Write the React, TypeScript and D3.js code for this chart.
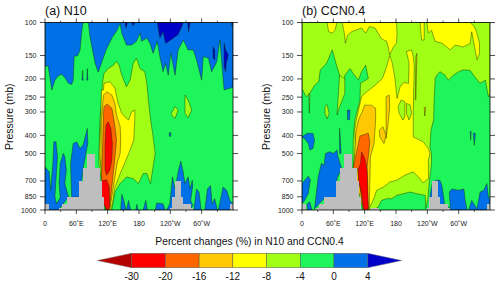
import React from "react";
import * as d3 from "d3";

type P = [number, number];

// --- axes ---
const pressureTicks = [100, 150, 200, 250, 300, 400, 500, 700, 850, 1000];
const lonTicks = [0, 60, 120, 180, 240, 300];
const lonLabels = ["0", "60˚E", "120˚E", "180", "120˚W", "60˚W"];
const lonMinor = [30, 90, 150, 210, 270, 330];
const legendLevels = ["-30", "-20", "-16", "-12", "-8", "-4", "0", "4"];
const legendColors = ["#ff0000", "#ff6600", "#ffc800", "#ffff00", "#a0ff14", "#1ef55a", "#0070e6"];

const C = { dred: "#b30000", red: "#ff0000", org: "#ff6600", gold: "#ffc800", yel: "#ffff00", yg: "#a0ff14", grn: "#1ef55a", blu: "#0070e6", dblu: "#0000c8", gray: "#bebebe" };

// --- terrain: [lonStart, lonEnd, top pressure] ---
const terrain: [number, number, number][] = [
  [0, 8, 925], [26, 32, 980], [32, 43, 925], [43, 66, 850], [66, 72, 700], [72, 81, 600], [81, 96, 500],
  [96, 105, 600], [105, 109, 700], [109, 113, 850], [240, 245, 980], [243, 248, 850], [248, 261, 700], [261, 265, 850],
  [265, 280, 925], [280, 284, 980], [354, 360, 925],
];
const terrainExtraB: [number, number, number][] = [[132, 148, 980]];

// --- panel (a) contour regions, [lon, pressure] ---
const aBlueTop: P[] = [[0,100],[0,172],[6,170],[13,229],[19,203],[26,192],[32,189],[38,197],[45,211],[51,214],[54,203],[56,151],[62,151],[67,141],[70,114],[73,100],[83,100],[86,119],[91,140],[96,165],[102,184],[108,165],[117,140],[128,121],[138,110],[144,101],[147,114],[156,132],[166,132],[175,126],[182,114],[185,126],[195,121],[201,129],[207,146],[215,126],[220,152],[226,183],[231,165],[236,191],[241,146],[249,191],[255,140],[265,124],[274,140],[284,140],[290,158],[300,203],[303,152],[313,155],[319,183],[329,162],[335,124],[341,199],[343,229],[357,223],[360,222],[360,100]];
const aBlueS1: P[] = [[81,176],[82,203],[80,203]];
const aBlueS2: P[] = [[72,180],[73,203],[71,203]];
const aDark1: P[] = [[153,100],[155,107],[158,100]];
const aDark2: P[] = [[166,100],[169,104],[172,100]];
const aDark3: P[] = [[215,100],[220,121],[226,112],[231,129],[237,126],[246,121],[255,116],[265,100]];
const aDark4: P[] = [[273,100],[275,112],[278,100]];
const aDark5: P[] = [[322,135],[325,140],[325,158],[322,155]];
const aDark6: P[] = [[343,129],[346,140],[351,149],[347,165],[346,183],[343,172]];
const aDark7: P[] = [[357,100],[358,104],[360,100]];
const aL1: P[] = [[0,589],[8,626],[11,785],[15,565],[17,433],[21,433],[24,520],[21,694],[19,853],[22,926],[29,860],[27,723],[29,565],[35,499],[38,520],[41,613],[38,723],[45,853],[26,1000],[0,1000]];
const aL2: P[] = [[51,853],[49,565],[54,442],[61,433],[67,470],[73,450],[81,367],[82,442],[73,600],[67,853]];
const aB1: P[] = [[145,1000],[147,825],[151,889],[155,1000]];
const aB2: P[] = [[156,1000],[160,889],[164,1000]];
const aB3: P[] = [[174,1000],[176,933],[178,1000]];
const aB4: P[] = [[188,1000],[193,889],[196,1000]];
const aB5: P[] = [[211,1000],[214,918],[226,926],[230,1000]];
const aB6: P[] = [[233,1000],[239,926],[244,666],[249,772],[255,626],[260,549],[264,613],[268,723],[274,666],[278,772],[282,694],[283,740],[279,889],[283,945],[278,1000]];
const aB7: P[] = [[285,1000],[290,772],[295,802],[299,1000]];
const aB8: P[] = [[306,1000],[311,772],[317,740],[320,926],[325,870],[330,1000]];
const aB9: P[] = [[332,1000],[341,754],[348,785],[354,889],[360,926],[360,1000]];
const aSpot: P[] = [[238,387],[241,387],[241,404],[238,404]];
const aYG: P[] = [[110,211],[113,187],[121,176],[131,169],[137,161],[142,169],[147,191],[156,220],[163,203],[169,165],[175,155],[182,176],[191,183],[195,211],[198,259],[201,311],[207,407],[211,499],[207,589],[202,723],[195,639],[188,639],[179,723],[169,680],[156,666],[144,723],[134,802],[130,926],[128,1000],[115,1000],[108,694],[103,565],[104,424],[105,331],[108,259]];
const aIsl1: P[] = [[242,305],[249,281],[255,293],[249,325],[242,310]];
const aIsl2: P[] = [[268,244],[274,259],[281,293],[274,322],[268,305]];
const aYellow: P[] = [[112,229],[113,211],[124,207],[134,224],[140,270],[147,305],[153,318],[160,331],[166,299],[172,293],[172,331],[170,424],[163,479],[155,542],[144,639],[134,754],[130,889],[126,1000],[117,1000],[108,613],[104,499],[107,331],[108,229]];
const aGold: P[] = [[112,244],[118,234],[128,244],[134,270],[137,311],[144,360],[145,424],[144,499],[138,565],[134,666],[130,785],[124,1000],[117,1000],[108,723],[107,499],[108,331]];
const aOrange: P[] = [[113,281],[119,272],[128,287],[131,318],[134,360],[137,424],[134,520],[130,666],[126,853],[123,1000],[117,1000],[108,694],[110,499],[112,311]];
const aRed1: P[] = [[117,352],[121,338],[126,367],[129,442],[128,542],[124,613],[118,652],[115,613],[115,442]];
const aRed2: P[] = [[108,700],[118,690],[123,754],[124,965],[119,1000],[117,980],[108,889]];

// --- panel (b) contour regions ---
const bYG: P[] = [[0,100],[360,100],[360,239],[357,249],[351,203],[341,211],[331,195],[322,180],[309,179],[300,183],[290,191],[280,203],[274,191],[264,183],[258,191],[255,199],[253,259],[252,331],[247,375],[245,460],[248,499],[248,565],[244,694],[241,870],[237,985],[236,836],[220,819],[207,802],[194,819],[181,836],[172,870],[162,870],[152,889],[146,965],[140,985],[133,1000],[120,1000],[98,600],[98,424],[101,331],[111,259],[112,211],[127,199],[122,169],[114,183],[108,203],[98,187],[92,176],[82,191],[81,203],[76,203],[72,191],[65,165],[58,140],[47,165],[35,179],[32,207],[24,216],[15,239],[8,249],[0,225]];
const bIsl: P[] = [[44,281],[48,274],[52,305],[48,327],[44,305]];
const bSpike: P[] = [[72,191],[67,311],[72,281],[82,239],[82,200]];
const bThin: P[] = [[13,239],[14,305],[15,239]];
const bYT1: P[] = [[48,100],[51,112],[58,114],[63,110],[67,100]];
const bYT2: P[] = [[77,100],[81,114],[83,129],[87,117],[95,112],[114,107],[122,114],[129,105],[140,107],[152,122],[162,126],[165,135],[168,149],[175,135],[181,129],[182,114],[181,100]];
const bYT3: P[] = [[226,100],[229,124],[234,124],[234,100]];
const bYT4: P[] = [[239,100],[242,114],[248,110],[255,126],[268,129],[284,140],[293,132],[309,135],[322,129],[325,112],[335,158],[340,146],[340,129],[335,114],[330,105],[322,100]];
const bYellow: P[] = [[168,150],[173,165],[178,199],[182,254],[188,220],[195,209],[204,211],[205,165],[200,143],[210,140],[213,152],[215,172],[213,293],[213,375],[213,407],[232,433],[242,470],[245,499],[242,542],[242,680],[232,716],[223,666],[213,626],[197,652],[181,694],[168,709],[156,754],[143,785],[136,889],[127,1000],[120,1000],[99,600],[103,479],[101,375],[104,331],[114,249],[124,234],[140,216],[154,199],[162,172]];
const bP1: P[] = [[200,270],[207,275],[210,305],[205,331],[200,305]];
const bP2: P[] = [[184,281],[190,259],[197,265],[197,318],[193,331],[186,305]];
const bGold: P[] = [[114,305],[120,276],[133,276],[141,287],[141,331],[138,442],[131,520],[130,694],[129,889],[129,1000],[117,1000],[98,600],[101,499],[103,390],[108,331]];
const bGI1: P[] = [[161,249],[167,244],[168,281],[165,345],[161,415],[161,305]];
const bGI2: P[] = [[148,375],[155,360],[161,400],[157,442],[149,407]];
const bGI3: P[] = [[234,284],[235,315],[237,284]];
const bGI4: P[] = [[220,146],[218,259],[217,259],[218,152]];
const bOrange: P[] = [[111,403],[127,390],[130,433],[127,520],[124,613],[125,754],[127,1000],[117,1000],[106,600],[98,600],[104,499]];
const bRed: P[] = [[114,489],[120,530],[125,613],[127,985],[122,1000],[118,985],[114,819],[108,694],[108,600],[112,565]];
const bB1: P[] = [[0,407],[10,390],[21,390],[24,424],[21,470],[15,479],[12,442],[5,415],[0,410]];
const bB2: P[] = [[0,723],[12,660],[16,694],[12,819],[5,889],[0,926]];
const bB3: P[] = [[10,926],[15,905],[19,1000],[10,1000]];
const bB4: P[] = [[24,985],[31,666],[37,565],[42,577],[45,499],[53,489],[60,499],[67,479],[69,520],[76,600],[67,680],[66,860],[44,860]];
const bS1: P[] = [[87,293],[92,293],[91,331],[87,328]];
const bS2: P[] = [[72,367],[75,499],[72,499]];
const bB5: P[] = [[245,853],[250,709],[257,694],[264,694],[268,740],[273,926],[284,985],[282,802],[287,772],[300,785],[310,772],[312,870],[316,1000],[245,1000]];
const bB6: P[] = [[319,1000],[325,889],[335,985],[341,802],[348,785],[354,723],[357,853],[360,870],[360,1000]];
const bS3: P[] = [[322,381],[324,381],[323,424]];
const bS4: P[] = [[328,390],[332,390],[330,451]];

const layersA: [string, P[]][] = [
  [C.blu, aBlueTop], [C.blu, aBlueS1], [C.blu, aBlueS2], [C.dblu, aDark1], [C.dblu, aDark2], [C.dblu, aDark3], [C.dblu, aDark4], [C.dblu, aDark5], [C.dblu, aDark6], [C.dblu, aDark7],
  [C.blu, aL1], [C.blu, aL2], [C.blu, aB1], [C.blu, aB2], [C.blu, aB3], [C.blu, aB4], [C.blu, aB5], [C.blu, aB6], [C.blu, aB7], [C.blu, aB8], [C.blu, aB9], [C.blu, aSpot],
  [C.yg, aYG], [C.yg, aIsl1], [C.yg, aIsl2], [C.yel, aYellow], [C.gold, aGold], [C.org, aOrange], [C.red, aRed1], [C.red, aRed2],
];
const layersB: [string, P[]][] = [
  [C.yg, bYG], [C.yg, bIsl], [C.yg, bSpike], [C.yg, bThin],
  [C.yel, bYT1], [C.yel, bYT2], [C.yel, bYT3], [C.yel, bYT4], [C.yel, bYellow], [C.yg, bP1], [C.yg, bP2],
  [C.gold, bGold], [C.gold, bGI1], [C.gold, bGI2], [C.gold, bGI3], [C.gold, bGI4], [C.org, bOrange], [C.red, bRed],
  [C.blu, bB1], [C.blu, bB2], [C.blu, bB3], [C.blu, bB4], [C.blu, bS1], [C.blu, bS2], [C.blu, bB5], [C.blu, bB6], [C.blu, bS3], [C.blu, bS4],
];

const FONT = "'Liberation Sans', Arial, sans-serif";
const TOP = 22.5, BOTTOM = 210;
const y = d3.scaleLog().domain([100, 1000]).range([TOP, BOTTOM]);

function Panel({ id, left, title, layers, extra }: { id: string; left: number; title: string; layers: [string, P[]][]; extra: [number, number, number][] }) {
  const x = d3.scaleLinear().domain([0, 360]).range([left, left + 188]);
  const line = d3.line<P>().x((d) => x(d[0])).y((d) => y(d[1])).curve(d3.curveLinearClosed);
  return (
    <g>
      <clipPath id={id}><rect x={left} y={TOP} width={188} height={BOTTOM - TOP} /></clipPath>
      <g clipPath={`url(#${id})`}>
        <rect x={left} y={TOP} width={188} height={BOTTOM - TOP} fill={C.grn} />
        {layers.map(([c, pts], i) => (
          <path key={i} d={line(pts) ?? ""} fill={c} stroke="#0a2a00" strokeOpacity={0.7} strokeWidth={0.6} strokeLinejoin="round" />
        ))}
        {[...terrain, ...extra].map(([a, b, p], i) => (
          <rect key={i} x={x(a)} y={y(p)} width={x(b) - x(a)} height={BOTTOM - y(p)} fill={C.gray} shapeRendering="crispEdges" />
        ))}
      </g>
      <rect x={left} y={TOP} width={188} height={BOTTOM - TOP} fill="none" stroke="#000" strokeWidth={0.8} />
      {pressureTicks.map((p) => (
        <g key={p}>
          <line x1={left - 5} x2={left} y1={y(p)} y2={y(p)} stroke="#000" strokeWidth={0.7} />
          <line x1={left + 188} x2={left + 193} y1={y(p)} y2={y(p)} stroke="#000" strokeWidth={0.7} />
          <text x={left - 8.5} y={y(p) + 2.5} textAnchor="end" fontSize={7} fontFamily={FONT} fill="#222">{p}</text>
        </g>
      ))}
      {lonTicks.map((l, i) => (
        <g key={l}>
          <line x1={x(l)} x2={x(l)} y1={TOP - 4} y2={TOP} stroke="#000" strokeWidth={0.7} />
          <line x1={x(l)} x2={x(l)} y1={BOTTOM} y2={BOTTOM + 4} stroke="#000" strokeWidth={0.7} />
          <text x={x(l)} y={BOTTOM + 15.5} textAnchor="middle" fontSize={7} fontFamily={FONT} fill="#222">{lonLabels[i]}</text>
        </g>
      ))}
      {lonMinor.map((l) => (
        <g key={l}>
          <line x1={x(l)} x2={x(l)} y1={TOP - 2} y2={TOP} stroke="#000" strokeWidth={0.6} />
          <line x1={x(l)} x2={x(l)} y1={BOTTOM} y2={BOTTOM + 2} stroke="#000" strokeWidth={0.6} />
        </g>
      ))}
      <text x={left} y={14.5} fontSize={12.5} fontFamily={FONT} fill="#111">{title}</text>
      <text transform={`translate(${left - 32.5},${(TOP + BOTTOM) / 2 + 0.5}) rotate(-90)`} textAnchor="middle" fontSize={10.5} fontFamily={FONT} fill="#111">Pressure (mb)</text>
    </g>
  );
}

function Legend() {
  const lx = d3.scalePoint<string>().domain(legendLevels).range([131.7, 367.7]);
  const top = 253.3, bot = 267.7, mid = (top + bot) / 2;
  const left = lx(legendLevels[0])!, right = lx(legendLevels[7])!;
  return (
    <g>
      <text x={249.5} y={245.3} textAnchor="middle" fontSize={10.3} fontFamily={FONT} fill="#111">Percent changes (%) in N10 and CCN0.4</text>
      <path d={`M${left},${top}L97.3,${mid}L${left},${bot}Z`} fill={C.dred} stroke="#777" strokeWidth={0.5} />
      <path d={`M${right},${top}L401.7,${mid}L${right},${bot}Z`} fill={C.dblu} stroke="#777" strokeWidth={0.5} />
      {legendColors.map((c, i) => (
        <rect key={c} x={lx(legendLevels[i])!} y={top} width={lx(legendLevels[i + 1])! - lx(legendLevels[i])!} height={bot - top} fill={c} stroke="#555" strokeWidth={0.5} />
      ))}
      {legendLevels.map((t) => (
        <text key={t} x={lx(t)!} y={280.3} textAnchor="middle" fontSize={10} fontFamily={FONT} fill="#111">{t}</text>
      ))}
    </g>
  );
}

export default function App() {
  return (
    <svg width={500} height={284} viewBox="0 0 500 284" style={{ position: "fixed", left: 0, top: 0, background: "#fff" }}>
      <Panel id="pa" left={45} title="(a) N10" layers={layersA} extra={[]} />
      <Panel id="pb" left={302} title="(b) CCN0.4" layers={layersB} extra={terrainExtraB} />
      <Legend />
    </svg>
  );
}
